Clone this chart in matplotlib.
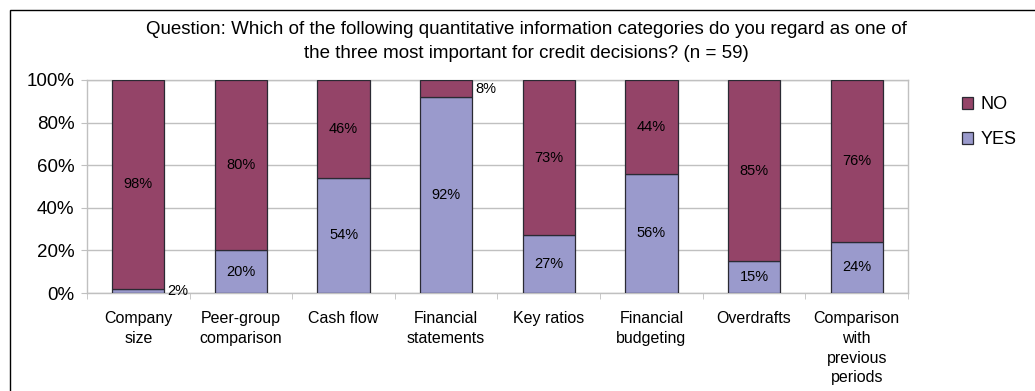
import numpy as np
import matplotlib
matplotlib.use("Agg")
import matplotlib.pyplot as plt
from matplotlib.patches import Rectangle
from matplotlib.ticker import FixedLocator, PercentFormatter

categories = ["Company\nsize", "Peer-group\ncomparison", "Cash flow", "Financial\nstatements",
              "Key ratios", "Financial\nbudgeting", "Overdrafts", "Comparison\nwith\nprevious\nperiods"]
yes_vals = [2, 20, 54, 92, 27, 56, 15, 24]
no_vals = [98, 80, 46, 8, 73, 44, 85, 76]
title = ("Question: Which of the following quantitative information categories do you regard as one of\n"
         "the three most important for credit decisions? (n = 59)")

plt.rcParams['font.family'] = ['Liberation Sans', 'DejaVu Sans']

W, H = 1035, 391
fig = plt.figure(figsize=(W / 100, H / 100), dpi=100)
ax = fig.add_axes([87 / W, 1 - 293 / H, (908 - 87) / W, (293 - 80) / H])

x = np.arange(len(categories))
bw = 0.51
b_yes = ax.bar(x, yes_vals, bw, color="#9a9acc", edgecolor="#2a2a33", linewidth=0.9, label="YES", zorder=3)
b_no = ax.bar(x, no_vals, bw, bottom=yes_vals, color="#944468", edgecolor="#2a2a33", linewidth=0.9, label="NO", zorder=3)

# segment labels; thin segments get the label beside the bar
for i in range(len(categories)):
    for val, base in ((yes_vals[i], 0), (no_vals[i], yes_vals[i])):
        if val < 10:
            ax.text(x[i] + bw / 2 + 0.03, base + val / 2, f"{val}%", ha="left", va="center", fontsize=10.5, zorder=4)
        else:
            ax.text(x[i], base + val / 2, f"{val}%", ha="center", va="center", fontsize=10.5, zorder=4)

ax.set_xlim(-0.5, len(categories) - 0.5)
ax.set_ylim(0, 100)
ax.yaxis.set_major_locator(FixedLocator([0, 20, 40, 60, 80, 100]))
ax.yaxis.set_major_formatter(PercentFormatter(decimals=0))
ax.grid(axis="y", color="#c0c0c0", linewidth=1, zorder=0)
for s in ax.spines.values():
    s.set_color("#c0c0c0")
    s.set_linewidth(1)

ax.set_xticks(x)
ax.set_xticklabels(categories, fontsize=11.5, linespacing=1.4)
ax.tick_params(axis="x", which="major", length=0, pad=13)
ax.xaxis.set_minor_locator(FixedLocator(np.arange(-0.5, len(categories), 1)))
ax.tick_params(axis="x", which="minor", length=4, color="#c0c0c0")
ax.tick_params(axis="y", length=4, color="#c0c0c0", labelsize=13.5, pad=5)

for lbl in ax.get_xticklabels():
    lbl.set_verticalalignment("top")

handles = [b_no, b_yes]
leg = fig.legend(handles, ["NO", "YES"], loc="upper left", bbox_to_anchor=(946 / W, 1 - 80 / H),
                 frameon=False, fontsize=13, handlelength=0.62, handleheight=0.62,
                 handletextpad=0.4, labelspacing=1.0)

fig.text(526 / W, 1 - 21 / H, title, ha="center", va="top", fontsize=13.5, linespacing=1.55)

# outer chart frame
fig.patches.append(Rectangle((10 / W, -0.1), 1.2, 1 - 10 / H + 0.1, transform=fig.transFigure,
                             fill=False, edgecolor="black", linewidth=1))

fig.savefig("out.png", dpi=100)
